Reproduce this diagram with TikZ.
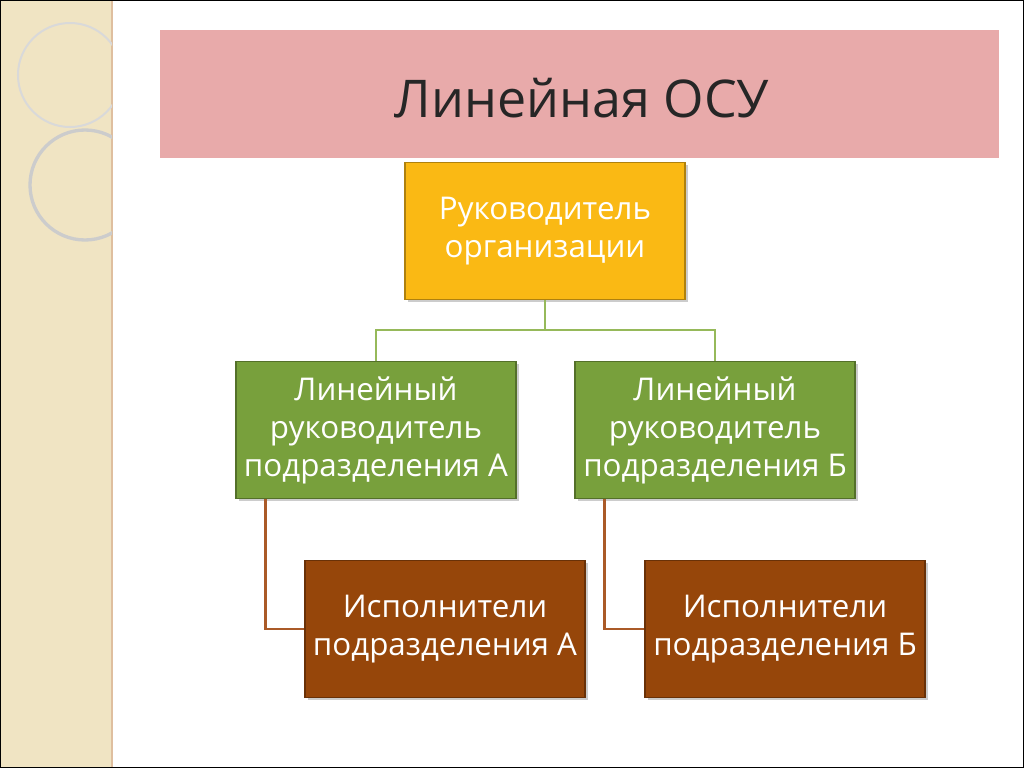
\documentclass[tikz,border=0pt]{standalone}
\usepackage{fontspec}
\setmainfont{Open Sans}
\usetikzlibrary{shadows}
\definecolor{beige}{RGB}{240,228,195}
\definecolor{pinkb}{RGB}{232,170,170}
\definecolor{yel}{RGB}{250,185,20}
\definecolor{grn}{RGB}{120,160,60}
\definecolor{brn}{RGB}{150,70,10}
\definecolor{gline}{RGB}{150,185,90}
\definecolor{bline}{RGB}{170,90,40}
\begin{document}
\begin{tikzpicture}[x=0.75pt,y=-0.75pt,
  box/.style={draw=#1!70!black,fill=#1,line width=1pt,minimum width=210pt,minimum height=103pt,inner sep=1pt,
    text=white,align=center,font=\fontsize{23.5}{28.5}\selectfont,drop shadow={opacity=0.4,shadow xshift=2pt,shadow yshift=-2pt}},
  gl/.style={draw=gline,line width=2pt},
  bl/.style={draw=bline,line width=2pt}]
\useasboundingbox (0,0) rectangle (1024,768);
\fill[white] (0,0) rectangle (1024,768);
\fill[beige] (0,0) rectangle (112,768);
\draw[brown!50,line width=1.5pt] (112,0) -- (112,768);
\begin{scope}
\clip (0,0) rectangle (112,768);
\draw[black!15,line width=1.5pt] (70,75) circle (52);
\draw[black!20,line width=2.5pt] (85,185) circle (55);
\end{scope}
\draw[black] (0.5,0.5) rectangle (1023.5,767.5);
\node[fill=pinkb,minimum width=629pt,minimum height=96pt,inner sep=0pt,anchor=north west] (title) at (160,30) {};
\node[font=\fontsize{39}{44}\selectfont,text=black!85] (tt) at (582,98) {Линейная ОСУ};
\node[box=yel] (top) at (545,231) {Руководитель\\организации};
\node[box=grn] (ga) at (376,430) {Линейный\\руководитель\\подразделения А};
\node[box=grn] (gb) at (715,430) {Линейный\\руководитель\\подразделения Б};
\node[box=brn] (ba) at (445,629) {Исполнители\\подразделения А};
\node[box=brn] (bb) at (785,629) {Исполнители\\подразделения Б};
\coordinate (j) at (545,330);
\draw[gl] (top.south) -- (j);
\draw[gl] (ga.north) |- (j) -| (gb.north);
\draw[bl] ([xshift=-83pt]ga.south) |- (ba.west);
\draw[bl] ([xshift=-83pt]gb.south) |- (bb.west);
\end{tikzpicture}
\end{document}
